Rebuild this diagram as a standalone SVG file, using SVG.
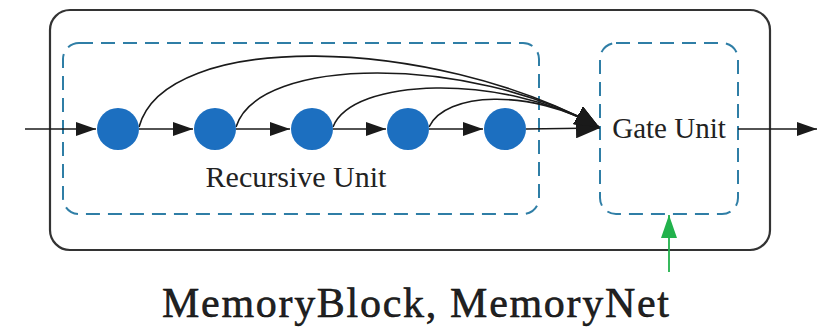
<svg xmlns="http://www.w3.org/2000/svg" width="820" height="330" viewBox="0 0 820 330">
  <defs>
    <style>
      .frame { fill: none; stroke: #333333; stroke-width: 2.2; }
      .unit { fill: none; stroke: #2f7ea6; stroke-width: 2; stroke-dasharray: 14 8; }
      .cell { fill: #1c6fc0; }
      .link { fill: none; stroke: #1a1a1a; stroke-width: 1.6; }
      .label { font-family: "Liberation Serif", "Times New Roman", serif; fill: #222222; }
    </style>
    <marker id="head" markerUnits="userSpaceOnUse" markerWidth="22" markerHeight="14" refX="20" refY="7" orient="auto">
      <path d="M0,0 L20,7 L0,14 Z" fill="#1a1a1a"/>
    </marker>
    <marker id="headBig" markerUnits="userSpaceOnUse" markerWidth="26" markerHeight="20" refX="24" refY="10" orient="auto">
      <path d="M0,0 L24,10 L0,20 Z" fill="#1a1a1a"/>
    </marker>
    <marker id="headGreen" markerUnits="userSpaceOnUse" markerWidth="24" markerHeight="18" refX="23" refY="8" orient="auto">
      <path d="M0,0 L23,8 L0,16 Z" fill="#22b24c"/>
    </marker>
  </defs>

  <rect width="820" height="330" fill="#ffffff"/>

  <!-- memory block frame -->
  <g id="memory-block">
    <rect class="frame" x="50" y="10" width="720" height="240" rx="20" ry="20"/>
  </g>

  <!-- recursive unit -->
  <g id="recursive-unit">
    <rect class="unit" x="63" y="43" width="476" height="171" rx="16" ry="16"/>
    <text class="label" x="296" y="187" font-size="30" text-anchor="middle">Recursive Unit</text>
  </g>

  <!-- gate unit -->
  <g id="gate-unit">
    <rect class="unit" x="600" y="43" width="138" height="171" rx="16" ry="16"/>
    <text class="label" x="669" y="138" font-size="29" text-anchor="middle">Gate Unit</text>
  </g>

  <!-- connectors -->
  <g id="connectors">
    <line class="link" x1="25" y1="129" x2="96" y2="129" marker-end="url(#head)"/>
    <line class="link" x1="139" y1="129" x2="193" y2="129" marker-end="url(#head)"/>
    <line class="link" x1="236" y1="129" x2="290" y2="129" marker-end="url(#head)"/>
    <line class="link" x1="333" y1="129" x2="386" y2="129" marker-end="url(#head)"/>
    <line class="link" x1="429" y1="129" x2="483" y2="129" marker-end="url(#head)"/>
    <line class="link" x1="526" y1="129" x2="600" y2="128" marker-end="url(#headBig)"/>
    <path class="link" d="M139,127 C165,30 430,35 599,127" marker-end="url(#headBig)"/>
    <path class="link" d="M236,127 C258,55 470,55 599,127" marker-end="url(#headBig)"/>
    <path class="link" d="M333,127 C352,78 500,72 599,127" marker-end="url(#headBig)"/>
    <path class="link" d="M429,127 C445,92 530,88 599,127" marker-end="url(#headBig)"/>
    <line class="link" x1="738" y1="129" x2="817" y2="129" marker-end="url(#head)"/>
    <line x1="669" y1="272" x2="669" y2="215" stroke="#22b24c" stroke-width="1.8" marker-end="url(#headGreen)"/>
  </g>

  <!-- recursive cells -->
  <g id="cell-1"><circle class="cell" cx="118" cy="129" r="21"/></g>
  <g id="cell-2"><circle class="cell" cx="215" cy="129" r="21"/></g>
  <g id="cell-3"><circle class="cell" cx="312" cy="129" r="21"/></g>
  <g id="cell-4"><circle class="cell" cx="408" cy="129" r="21"/></g>
  <g id="cell-5"><circle class="cell" cx="505" cy="129" r="21"/></g>

  <!-- caption -->
  <text class="label" x="162" y="317" font-size="42" fill="#000000" stroke="#000000" stroke-width="0.5" textLength="507" lengthAdjust="spacing">MemoryBlock, MemoryNet</text>
</svg>
